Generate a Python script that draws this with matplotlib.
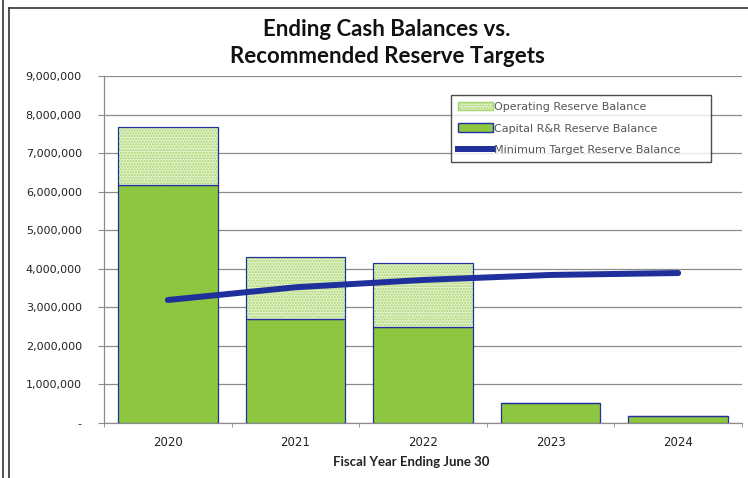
import matplotlib
matplotlib.use("Agg")
import matplotlib.pyplot as plt
from matplotlib.patches import Patch
from matplotlib.lines import Line2D
from matplotlib.ticker import FuncFormatter, MultipleLocator
import numpy as np

years = ["2020", "2021", "2022", "2023", "2024"]
capital_rr = [6170000, 2690000, 2490000, 520000, 190000]
operating = [1500000, 1620000, 1660000, 0, 0]
min_target = [3190000, 3520000, 3710000, 3840000, 3890000]

fig = plt.figure(figsize=(7.48, 4.78), dpi=100)
ax = fig.add_axes([104 / 748, 1 - 423 / 478, (742 - 104) / 748, (423 - 76) / 478])

x = np.arange(len(years))
w = 0.78
navy = "#2330a0"
green = "#8dc63f"
light = "#e3f2cc"
dots = "#a6d46a"

# Capital R&R reserve (solid green)
ax.bar(x, capital_rr, width=w, color=green, edgecolor=navy, linewidth=0.9, zorder=3)
# Operating reserve stacked on top (light dotted pattern)
op_bottom = capital_rr
ax.bar(x, operating, width=w, bottom=op_bottom, color=light,
       edgecolor=dots, hatch="......", linewidth=0, zorder=3)
ax.bar(x, operating, width=w, bottom=op_bottom, color="none",
       edgecolor=navy, linewidth=0.9, zorder=4)

# Minimum target reserve line
ax.plot(x, min_target, color="#1f2f9c", linewidth=4.3, solid_capstyle="round", zorder=5)

ax.set_ylim(0, 9000000)
ax.set_xlim(-0.5, len(years) - 0.5)
ax.yaxis.set_major_locator(MultipleLocator(1000000))
ax.yaxis.set_major_formatter(FuncFormatter(lambda v, p: "-" if v == 0 else f"{int(v):,}"))
ax.grid(axis="y", color="#8c8c8c", linewidth=0.9, zorder=0)
ax.set_axisbelow(True)

ax.set_xticks(x)
ax.set_xticklabels(years)
ax.set_xticks(np.arange(-0.5, len(years), 1.0), minor=True)
ax.tick_params(axis="x", which="major", length=0, pad=9, labelsize=8.5, labelcolor="#222222")
ax.tick_params(axis="x", which="minor", length=3, color="#8c8c8c", direction="out")
ax.tick_params(axis="y", length=4, color="#8c8c8c", pad=12, labelsize=8, labelcolor="#222222")
for lbl in ax.get_yticklabels() + ax.get_xticklabels():
    lbl.set_family("DejaVu Sans")

for side in ["top", "right"]:
    ax.spines[side].set_visible(False)
for side in ["left", "bottom"]:
    ax.spines[side].set_color("#8c8c8c")
    ax.spines[side].set_linewidth(0.9)

ax.set_xlabel("Fiscal Year Ending June 30", fontsize=9.5, fontweight="bold",
              family="Lato", color="#222222")
ax.xaxis.label.set_va("center")
ax.xaxis.set_label_coords((411 - 104) / 638, (423 - 462) / 347)

fig.text(387 / 748, 1 - 43 / 478, "Ending Cash Balances vs.\nRecommended Reserve Targets",
         ha="center", va="center", fontsize=16, fontweight="bold", family="Lato",
         linespacing=1.3, color="#111111")

handles = [
    Patch(facecolor=light, edgecolor=dots, hatch="......", label="Operating Reserve Balance"),
    Patch(facecolor=green, edgecolor=navy, label="Capital R&R Reserve Balance"),
    Line2D([0], [0], color="#1f2f9c", linewidth=4.3, label="Minimum Target Reserve Balance"),
]
lx0 = (451 - 104) / 638
ly1 = (423 - 95) / 347
leg = ax.legend(handles=handles, loc="upper left",
                bbox_to_anchor=(lx0, ly1 - 68 / 347, (711 - 451) / 638, 68 / 347),
                mode="expand", frameon=True, fancybox=False, edgecolor="#222222",
                fontsize=8, handlelength=3.2, handleheight=0.8, handletextpad=0.1,
                labelspacing=1.05, borderpad=0.6, borderaxespad=0)
leg.get_frame().set_linewidth(1.0)
for t in leg.get_texts():
    t.set_color("#555555")
leg.set_zorder(6)

# Document frame around the chart
fig.add_artist(Line2D([3 / 748, 3 / 748], [0, 1], color="#333333", linewidth=1.2))
fig.add_artist(Line2D([9 / 748, 9 / 748], [0, 1 - 8 / 478], color="#333333", linewidth=1.2))
fig.add_artist(Line2D([9 / 748, 1], [1 - 8 / 478, 1 - 8 / 478], color="#333333", linewidth=1.2))

fig.savefig("out.png", dpi=100)
